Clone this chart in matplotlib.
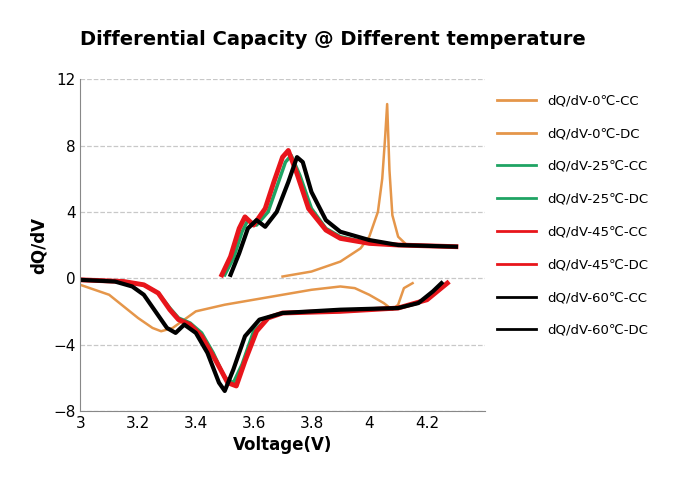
import matplotlib
matplotlib.use("Agg")
import matplotlib.pyplot as plt

plt.rcParams["font.family"] = "Noto Sans CJK SC"

c0_x = [3.70, 3.80, 3.90, 3.97, 4.00, 4.03, 4.045, 4.055, 4.062, 4.07, 4.08, 4.10, 4.13, 4.20, 4.30]
c0_y = [0.1, 0.4, 1.0, 1.8, 2.5, 4.0, 6.0, 8.5, 10.5, 6.5, 3.8, 2.5, 2.0, 1.9, 1.9]
d0_x = [3.0, 3.1, 3.2, 3.25, 3.28, 3.32, 3.36, 3.4, 3.5, 3.6, 3.7, 3.8, 3.9, 3.95, 4.0, 4.05, 4.08, 4.10, 4.12, 4.15]
d0_y = [-0.4, -1.0, -2.4, -3.0, -3.2, -3.0, -2.5, -2.0, -1.6, -1.3, -1.0, -0.7, -0.5, -0.6, -1.0, -1.5, -1.9, -1.6, -0.6, -0.3]
c25_x = [3.50, 3.53, 3.56, 3.58, 3.61, 3.65, 3.68, 3.71, 3.73, 3.76, 3.80, 3.85, 3.90, 4.00, 4.10, 4.30]
c25_y = [0.2, 1.2, 2.8, 3.5, 3.2, 4.0, 5.5, 7.0, 7.4, 6.2, 4.2, 3.0, 2.5, 2.1, 2.0, 1.9]
d25_x = [3.0, 3.15, 3.22, 3.27, 3.31, 3.34, 3.38, 3.42, 3.46, 3.50, 3.53, 3.56, 3.60, 3.65, 3.70, 3.90, 4.10, 4.20, 4.27]
d25_y = [-0.1, -0.2, -0.4, -0.9, -1.8, -2.4, -2.7, -3.3, -4.5, -6.0, -6.3, -5.2, -3.2, -2.4, -2.1, -2.0, -1.8, -1.3, -0.3]
c45_x = [3.49, 3.52, 3.55, 3.57, 3.60, 3.64, 3.67, 3.70, 3.72, 3.75, 3.79, 3.85, 3.90, 4.00, 4.10, 4.30]
c45_y = [0.2, 1.3, 3.0, 3.7, 3.2, 4.2, 5.8, 7.3, 7.7, 6.3, 4.2, 2.9, 2.4, 2.1, 2.0, 1.9]
d45_x = [3.0, 3.15, 3.22, 3.27, 3.31, 3.34, 3.38, 3.42, 3.47, 3.51, 3.54, 3.57, 3.61, 3.65, 3.70, 3.90, 4.10, 4.20, 4.27]
d45_y = [-0.1, -0.2, -0.4, -0.9, -1.9, -2.5, -2.8, -3.5, -5.0, -6.3, -6.5, -5.0, -3.2, -2.4, -2.1, -2.0, -1.8, -1.3, -0.3]
c60_x = [3.52, 3.55, 3.58, 3.61, 3.64, 3.68, 3.72, 3.75, 3.77, 3.80, 3.85, 3.90, 4.00, 4.10, 4.30]
c60_y = [0.2, 1.5, 3.0, 3.5, 3.1, 4.0, 5.8, 7.3, 7.0, 5.2, 3.5, 2.8, 2.3, 2.0, 1.9]
d60_x = [3.0, 3.12, 3.18, 3.22, 3.26, 3.30, 3.33, 3.36, 3.40, 3.44, 3.48, 3.50, 3.53, 3.57, 3.62, 3.70, 3.90, 4.10, 4.17, 4.22, 4.25]
d60_y = [-0.1, -0.2, -0.5, -1.0, -2.0, -3.0, -3.3, -2.8, -3.3, -4.5, -6.3, -6.8, -5.5, -3.5, -2.5, -2.1, -1.9, -1.8, -1.5, -0.8, -0.3]

labels = ["dQ/dV-0℃-CC", "dQ/dV-0℃-DC", "dQ/dV-25℃-CC", "dQ/dV-25℃-DC",
          "dQ/dV-45℃-CC", "dQ/dV-45℃-DC", "dQ/dV-60℃-CC", "dQ/dV-60℃-DC"]
series = [(c0_x, c0_y), (d0_x, d0_y), (c25_x, c25_y), (d25_x, d25_y),
          (c45_x, c45_y), (d45_x, d45_y), (c60_x, c60_y), (d60_x, d60_y)]
colors = ["#E5964A", "#E5964A", "#1FA463", "#1FA463", "#E8151B", "#E8151B", "#000000", "#000000"]
widths = [1.8, 1.8, 2.5, 2.5, 3.5, 3.5, 3.0, 3.0]

fig = plt.figure(figsize=(6.8, 4.98), dpi=100)
ax = fig.add_axes([0.118, 0.175, 0.595, 0.666])
for (x, y), c, w, l in zip(series, colors, widths, labels):
    ax.plot(x, y, color=c, lw=w, label=l)
ax.set_xlim(3.0, 4.4)
ax.set_ylim(-8, 12)
ax.set_xticks([3, 3.2, 3.4, 3.6, 3.8, 4.0, 4.2])
ax.set_xticklabels(["3", "3.2", "3.4", "3.6", "3.8", "4", "4.2"])
ax.set_yticks([-8, -4, 0, 4, 8, 12])
ax.tick_params(labelsize=11, length=0)
ax.grid(axis="y", ls="--", color="#c8c8c8", lw=0.9)
for s in ["top", "right"]:
    ax.spines[s].set_visible(False)
for s in ["left", "bottom"]:
    ax.spines[s].set_color("#888888")
ax.set_xlabel("Voltage(V)", fontsize=12, fontweight="bold")
ax.set_ylabel("dQ/dV", fontsize=12, fontweight="bold")
fig.text(0.118, 0.91, "Differential Capacity @ Different temperature", fontsize=14, fontweight="bold")
leg = ax.legend(loc="upper left", bbox_to_anchor=(1.0, 0.99), frameon=False, fontsize=9.5,
                labelspacing=1.5, handlelength=3.0)
for h in leg.get_lines():
    h.set_linewidth(2)
fig.savefig("out.png", dpi=100)
